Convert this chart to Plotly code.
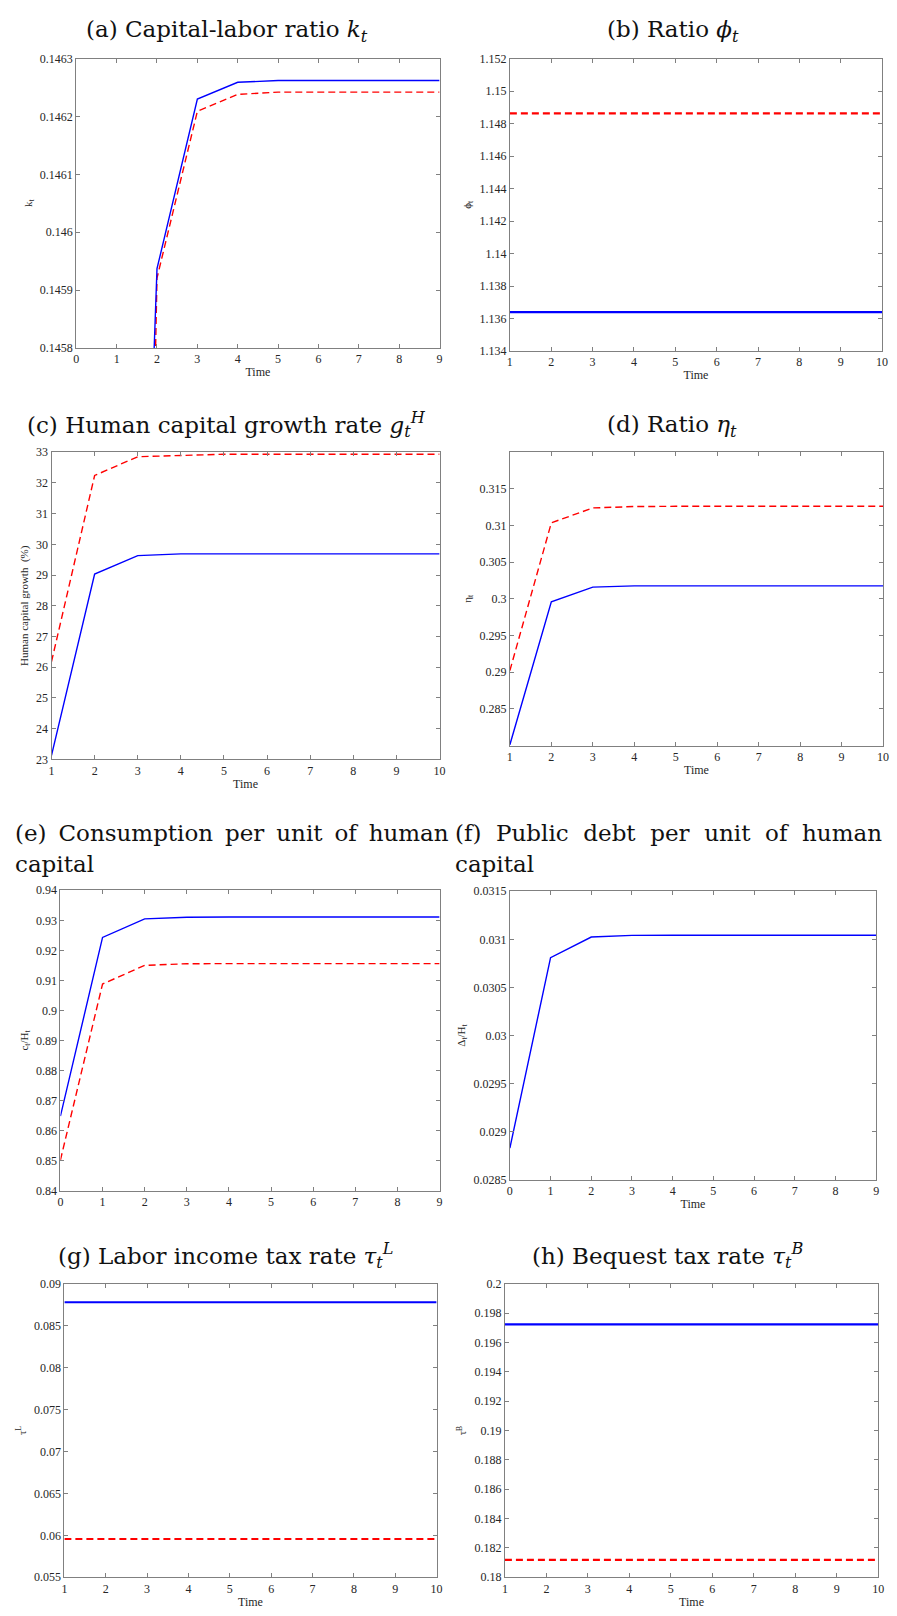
import plotly.graph_objects as go

# ---------------- data ----------------
t_a = [1, 2, 3, 4, 5, 6, 7, 8, 9]
t0 = [0, 1, 2, 3, 4, 5, 6, 7, 8, 9]
t1 = [1, 2, 3, 4, 5, 6, 7, 8, 9, 10]

k_blue = [0.14398, 0.145937, 0.14623, 0.146259, 0.146262, 0.146262, 0.146262, 0.146262, 0.146262]
k_red = [0.14246, 0.145921, 0.146209, 0.146238, 0.146242, 0.146242, 0.146242, 0.146242, 0.146242]

phi_blue = [1.13639] * 10
phi_red = [1.14862] * 10

gH_blue = [23.13, 29.03, 29.63, 29.69, 29.69, 29.69, 29.69, 29.69, 29.69, 29.69]
gH_red = [26.18, 32.24, 32.85, 32.90, 32.93, 32.93, 32.93, 32.93, 32.93, 32.93]

eta_blue = [0.2801, 0.2996, 0.3016, 0.30176, 0.30176, 0.30176, 0.30176, 0.30176, 0.30176, 0.30176]
eta_red = [0.29022, 0.31036, 0.31239, 0.31258, 0.31261, 0.31261, 0.31261, 0.31261, 0.31261, 0.31261]

cH_blue = [0.8648, 0.9243, 0.9305, 0.9310, 0.9311, 0.9311, 0.9311, 0.9311, 0.9311, 0.9311]
cH_red = [0.8502, 0.9088, 0.9150, 0.91555, 0.91558, 0.91558, 0.91558, 0.91558, 0.91558, 0.91558]

dH_blue = [0.02883, 0.03081, 0.031024, 0.031041, 0.031042, 0.031042, 0.031042, 0.031042, 0.031042, 0.031042]

tauL_blue = [0.0878] * 10
tauL_red = [0.05956] * 10

tauB_blue = [0.19724] * 10
tauB_red = [0.18119] * 10

xt_0_9 = [0, 1, 2, 3, 4, 5, 6, 7, 8, 9]
xt_1_10 = [1, 2, 3, 4, 5, 6, 7, 8, 9, 10]

yt_a = [0.1458, 0.1459, 0.146, 0.1461, 0.1462, 0.1463]
yl_a = ["0.1458", "0.1459", "0.146", "0.1461", "0.1462", "0.1463"]
yt_b = [1.134, 1.136, 1.138, 1.14, 1.142, 1.144, 1.146, 1.148, 1.15, 1.152]
yl_b = ["1.134", "1.136", "1.138", "1.14", "1.142", "1.144", "1.146", "1.148", "1.15", "1.152"]
yt_c = [23, 24, 25, 26, 27, 28, 29, 30, 31, 32, 33]
yl_c = ["23", "24", "25", "26", "27", "28", "29", "30", "31", "32", "33"]
yt_d = [0.285, 0.29, 0.295, 0.3, 0.305, 0.31, 0.315]
yl_d = ["0.285", "0.29", "0.295", "0.3", "0.305", "0.31", "0.315"]
yt_e = [0.84, 0.85, 0.86, 0.87, 0.88, 0.89, 0.9, 0.91, 0.92, 0.93, 0.94]
yl_e = ["0.84", "0.85", "0.86", "0.87", "0.88", "0.89", "0.9", "0.91", "0.92", "0.93", "0.94"]
yt_f = [0.0285, 0.029, 0.0295, 0.03, 0.0305, 0.031, 0.0315]
yl_f = ["0.0285", "0.029", "0.0295", "0.03", "0.0305", "0.031", "0.0315"]
yt_g = [0.055, 0.06, 0.065, 0.07, 0.075, 0.08, 0.085, 0.09]
yl_g = ["0.055", "0.06", "0.065", "0.07", "0.075", "0.08", "0.085", "0.09"]
yt_h = [0.18, 0.182, 0.184, 0.186, 0.188, 0.19, 0.192, 0.194, 0.196, 0.198, 0.2]
yl_h = ["0.18", "0.182", "0.184", "0.186", "0.188", "0.19", "0.192", "0.194", "0.196", "0.198", "0.2"]

# ---------------- styling / layout ----------------
W, H = 897, 1616
BLUE = "#0000ff"
RED = "#ff0000"
GRAY = "#808080"
TXT = "#262626"
SERIF = "Liberation Serif"
TSERIF = "DejaVu Serif"

panels = [
    dict(x=t_a, blue=k_blue, red=k_red, lw=1.4, xr=[0, 9], xt=xt_0_9, yr=[0.1458, 0.1463], yt=yt_a, yl=yl_a,
         dom=(74, 441, 52, 344), ytitle="k<sub>t</sub>", xtitle="Time",
         title="(a) Capital-labor ratio <i>k<sub>t</sub></i>", tpos=(226, 24)),
    dict(x=t1, blue=phi_blue, red=phi_red, lw=2.3, xr=[1, 10], xt=xt_1_10, yr=[1.134, 1.152], yt=yt_b, yl=yl_b,
         dom=(512, 888, 52, 347), ytitle="ϕ<sub>t</sub>", xtitle="Time",
         title="(b) Ratio <i>ϕ<sub>t</sub></i>", tpos=(677, 24)),
    dict(x=t1, blue=gH_blue, red=gH_red, lw=1.4, xr=[1, 10], xt=xt_1_10, yr=[23, 33], yt=yt_c, yl=yl_c,
         dom=(49, 441, 449, 759), ytitle="Human capital growth  (%)", xtitle="Time",
         title="(c) Human capital growth rate <i>g</i><sub><i>t</i></sub><sup><i>H</i></sup>", tpos=(226, 421)),
    dict(x=t1, blue=eta_blue, red=eta_red, lw=1.4, xr=[1, 10], xt=xt_1_10, yr=[0.28, 0.32], yt=yt_d, yl=yl_d,
         dom=(512, 889, 449, 745), ytitle="η<sub>t</sub>", xtitle="Time",
         title="(d) Ratio <i>η<sub>t</sub></i>", tpos=(676, 423)),
    dict(x=t0, blue=cH_blue, red=cH_red, lw=1.4, xr=[0, 9], xt=xt_0_9, yr=[0.84, 0.94], yt=yt_e, yl=yl_e,
         dom=(58, 441, 891, 1194), ytitle="c<sub>t</sub>/H<sub>t</sub>", xtitle="",
         title=None, tpos=None),
    dict(x=t0, blue=dH_blue, red=None, lw=1.4, xr=[0, 9], xt=xt_0_9, yr=[0.0285, 0.0315], yt=yt_f, yl=yl_f,
         dom=(512, 882, 892, 1183), ytitle="Δ<sub>t</sub>/H<sub>t</sub>", xtitle="Time",
         title=None, tpos=None),
    dict(x=t1, blue=tauL_blue, red=tauL_red, lw=2.0, xr=[1, 10], xt=xt_1_10, yr=[0.055, 0.09], yt=yt_g, yl=yl_g,
         dom=(62, 438, 1288, 1584), ytitle="τ<sup>L</sup>", xtitle="Time",
         title="(g) Labor income tax rate <i>τ</i><sub><i>t</i></sub><sup><i>L</i></sup>", tpos=(225, 1259)),
    dict(x=t1, blue=tauB_blue, red=tauB_red, lw=2.3, xr=[1, 10], xt=xt_1_10, yr=[0.18, 0.2], yt=yt_h, yl=yl_h,
         dom=(507, 884, 1288, 1584), ytitle="τ<sup>B</sup>", xtitle="Time",
         title="(h) Bequest tax rate <i>τ</i><sub><i>t</i></sub><sup><i>B</i></sup>", tpos=(671, 1259)),
]

fig = go.Figure()
annotations = []
layout = dict(
    width=W, height=H, margin=dict(l=0, r=0, t=0, b=0),
    paper_bgcolor="white", plot_bgcolor="white", showlegend=False,
    font=dict(family=SERIF, color=TXT),
)

for i, p in enumerate(panels, start=1):
    xa = "x" if i == 1 else f"x{i}"
    ya = "y" if i == 1 else f"y{i}"
    xkey = "xaxis" if i == 1 else f"xaxis{i}"
    ykey = "yaxis" if i == 1 else f"yaxis{i}"
    if p["red"] is not None:
        fig.add_trace(go.Scatter(x=p["x"], y=p["red"], mode="lines", xaxis=xa, yaxis=ya,
                                 line=dict(color=RED, width=p["lw"], dash="7px,4px")))
    fig.add_trace(go.Scatter(x=p["x"], y=p["blue"], mode="lines", xaxis=xa, yaxis=ya,
                             line=dict(color=BLUE, width=p["lw"])))
    x0, x1, y0, y1 = p["dom"]
    common = dict(showline=True, linecolor=GRAY, linewidth=1, mirror="ticks", ticks="inside",
                  ticklen=4, tickcolor=GRAY, tickwidth=1, showgrid=False, zeroline=False,
                  tickfont=dict(family=SERIF, size=12, color=TXT))
    layout[xkey] = dict(common, domain=[x0 / W, x1 / W], range=p["xr"], tickvals=p["xt"],
                        anchor=ya,
                        title=dict(text=p["xtitle"], font=dict(family=SERIF, size=12, color=TXT), standoff=2))
    layout[ykey] = dict(common, domain=[1 - y1 / H, 1 - y0 / H], range=p["yr"], tickvals=p["yt"],
                        ticktext=p["yl"], anchor=xa,
                        title=dict(text=p["ytitle"], font=dict(family=SERIF, size=11, color=TXT), standoff=5))
    if p["title"]:
        tx, ty = p["tpos"]
        annotations.append(dict(text=p["title"], x=tx / W, y=1 - ty / H, xref="paper", yref="paper",
                                xanchor="center", yanchor="middle", showarrow=False,
                                font=dict(family=TSERIF, size=23, color="#111111")))

NB = "\u00a0"
TH = "\u2009"
e_line1 = (NB + TH).join(["(e)", "Consumption", "per", "unit", "of", "human"])
f_line1 = (NB * 2).join(["(f)", "Public", "debt", "per", "unit", "of", "human"])
for txt, xp, ty in [(e_line1, 10, 833), ("capital", 10, 864), (f_line1, 455, 833), ("capital", 455, 864)]:
    annotations.append(dict(text=txt, x=xp / W, y=1 - ty / H, xref="paper", yref="paper",
                            xanchor="left", yanchor="middle", showarrow=False,
                            font=dict(family=TSERIF, size=23, color="#111111")))

layout["annotations"] = annotations
fig.update_layout(**layout)
fig.write_html("out.html", config={"displayModeBar": False},
               post_script="document.body.style.margin='0';document.body.style.overflow='hidden';"
                           "document.documentElement.style.overflow='hidden';")
